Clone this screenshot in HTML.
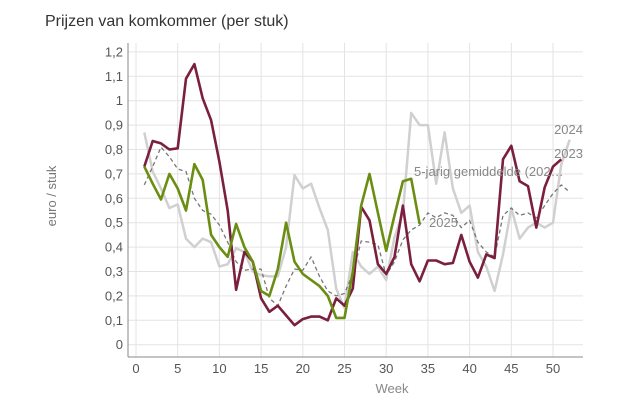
<!DOCTYPE html>
<html><head><meta charset="utf-8"><style>
html,body{margin:0;padding:0;background:#fff;}
svg{display:block;font-family:"Liberation Sans",sans-serif;}
</style></head><body>
<svg id="c" width="626" height="417" xmlns="http://www.w3.org/2000/svg">
<text x="45" y="26" font-size="16" fill="#333">Prijzen van komkommer (per stuk)</text>
<text transform="translate(56,196) rotate(-90)" text-anchor="middle" font-size="13" fill="#777">euro / stuk</text>
<text x="392" y="393" text-anchor="middle" font-size="13" fill="#888">Week</text>
</svg>
<script>
var s=document.getElementById('c'),NS='http://www.w3.org/2000/svg';
function X(w){return 136+w*8.34;}function Y(v){return 344.7-v*244;}
function el(t,a,txt){var e=document.createElementNS(NS,t);for(var k in a)e.setAttribute(k,a[k]);if(txt)e.textContent=txt;s.appendChild(e);return e;}
for(var i=0;i<=12;i++){var y=Y(i/10);el('line',{x1:128,x2:583,y1:y,y2:y,stroke:'#e3e3e3','stroke-width':1});
el('text',{x:123,y:y+4.5,'text-anchor':'end','font-size':13,fill:'#555'},i==0?'0':i==10?'1':(i/10).toFixed(1).replace('.',','));}
for(var w=0;w<=50;w+=5){var x=X(w);el('line',{x1:x,x2:x,y1:43,y2:357,stroke:'#e3e3e3','stroke-width':1});
el('text',{x:x,y:373,'text-anchor':'middle','font-size':13,fill:'#555'},String(w));}
el('line',{x1:128,x2:128,y1:43,y2:357,stroke:'#888','stroke-width':1});
el('line',{x1:128,x2:583,y1:357,y2:357,stroke:'#888','stroke-width':1});
function pl(d,c,wd,dash){var p=d.map(function(v,i){return X(i+1).toFixed(1)+','+Y(v).toFixed(1)}).join(' ');
var a={points:p,fill:'none',stroke:c,'stroke-width':wd,'stroke-linejoin':'round'};if(dash)a['stroke-dasharray']=dash;el('polyline',a);}
var g24=[.87,.71,.64,.56,.575,.435,.40,.435,.42,.32,.33,.395,.38,.30,.285,.28,.28,.40,.695,.64,.66,.56,.47,.23,.15,.38,.32,.29,.32,.265,.44,.54,.95,.90,.90,.66,.87,.64,.54,.57,.38,.32,.22,.37,.56,.435,.48,.50,.48,.50,.74,.84];
var avg=[.655,.73,.81,.77,.72,.71,.60,.55,.535,.49,.42,.34,.305,.31,.31,.19,.16,.24,.31,.305,.36,.28,.22,.20,.21,.29,.425,.42,.41,.285,.34,.43,.47,.49,.54,.52,.54,.53,.48,.51,.42,.38,.36,.53,.56,.53,.54,.52,.57,.62,.655,.625];
var m23=[.73,.835,.825,.80,.805,1.09,1.15,1.01,.92,.75,.55,.225,.38,.34,.19,.135,.16,.12,.08,.105,.115,.115,.10,.19,.16,.23,.565,.51,.33,.29,.36,.57,.33,.26,.345,.345,.33,.335,.45,.34,.275,.37,.355,.76,.815,.67,.65,.48,.645,.73,.76];
var g25=[.73,.66,.595,.70,.64,.55,.74,.675,.45,.40,.36,.495,.40,.34,.22,.20,.31,.50,.34,.29,.265,.24,.20,.11,.11,.30,.57,.70,.54,.385,.53,.67,.68,.495];
pl(g24,'#d0d0d0',2.5);pl(avg,'#777',1.3,'4,3');pl(m23,'#7a1f3d',2.6);pl(g25,'#6b8e12',2.6);
el('text',{x:583,y:134,'text-anchor':'end','font-size':13,fill:'#888'},'2024');
el('text',{x:583,y:158,'text-anchor':'end','font-size':13,fill:'#888'},'2023');
el('text',{x:414,y:176,'font-size':13,fill:'#888'},'5-jarig gemiddelde (202…');
el('text',{x:429,y:227,'font-size':13,fill:'#888'},'2025');
</script>
</body></html>
